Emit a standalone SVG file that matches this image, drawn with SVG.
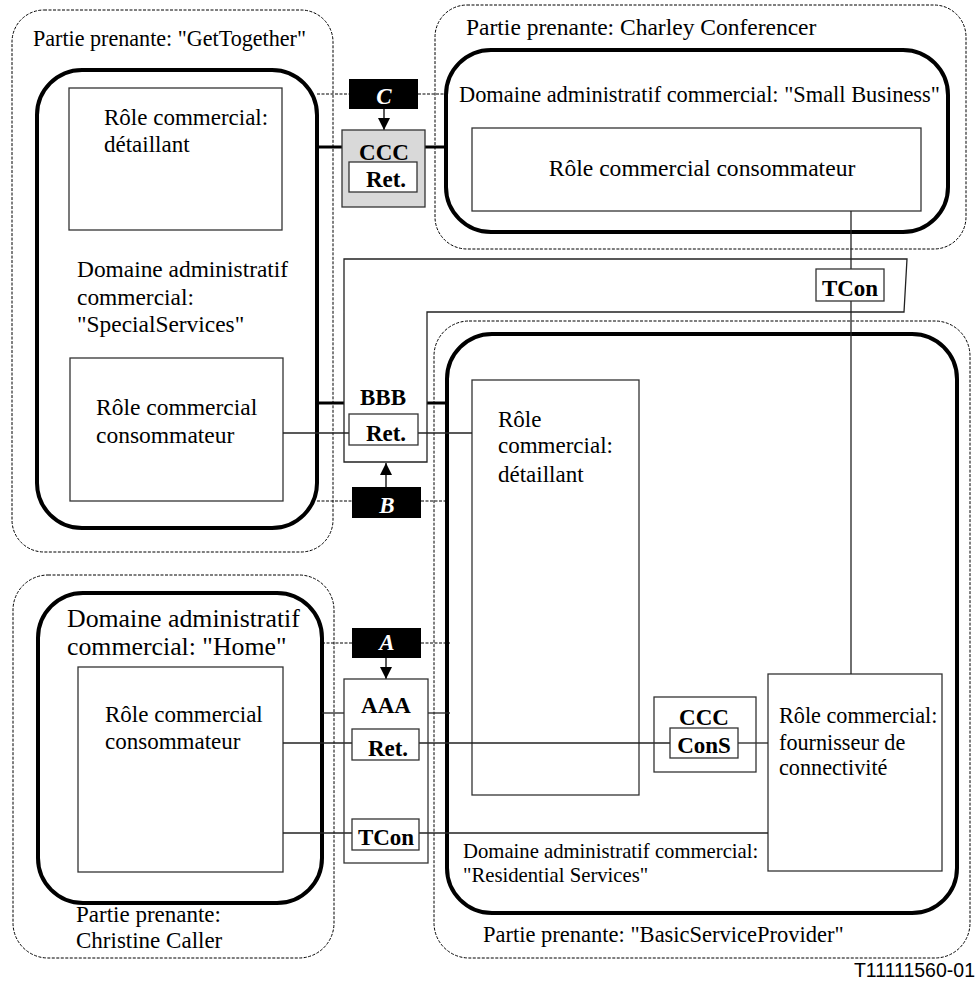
<svg xmlns="http://www.w3.org/2000/svg" width="977" height="982" viewBox="0 0 977 982">
  <style>
    .party{fill:none;stroke:#000;stroke-width:1;stroke-dasharray:3 1.5}
    .domain{fill:none;stroke:#000;stroke-width:4}
    .role{fill:none;stroke:#333;stroke-width:1.3}
    .obj{fill:#fff;stroke:#333;stroke-width:1.3}
    .t{font-family:"Liberation Serif","Times New Roman",serif;font-size:23px;fill:#000}
    .b{font-family:"Liberation Serif","Times New Roman",serif;font-weight:bold;font-size:23px;fill:#000;text-anchor:middle}
    .ref{fill:#000;stroke:none}
    .refl{font-family:"Liberation Serif","Times New Roman",serif;font-weight:bold;font-style:italic;font-size:23px;fill:#fff;text-anchor:middle}
    .thin{stroke:#222;stroke-width:1.3;fill:none}
    .heavy{stroke:#000;stroke-width:3;fill:none}
    .dash{stroke:#000;stroke-width:1;stroke-dasharray:3 1.5;fill:none}
    .arr{stroke:#000;stroke-width:1.3;fill:none}
  </style>
  <defs>
    <marker id="head" viewBox="0 0 12 12" refX="12" refY="6" markerWidth="12" markerHeight="12" markerUnits="userSpaceOnUse" orient="auto">
      <path d="M0,0 L12,6 L0,12 Z" fill="#000"/>
    </marker>
  </defs>

  <rect width="977" height="982" fill="#fff"/>

  <!-- Stakeholder GetTogether -->
  <g id="party-gettogether">
    <rect class="party" x="12" y="10" width="321" height="542" rx="32"/>
    <text class="t" x="33" y="46" style="font-size:22.1px">Partie prenante: "GetTogether"</text>
    <g id="domain-specialservices">
      <rect class="domain" x="37" y="70" width="280" height="458" rx="45"/>
      <text class="t" x="77" y="277" style="font-size:23.4px">Domaine administratif</text>
      <text class="t" x="77" y="305" style="font-size:23.4px">commercial:</text>
      <text class="t" x="77" y="332" style="font-size:23.4px">"SpecialServices"</text>
    </g>
    <g id="role-gt-retailer">
      <rect class="role" x="69" y="88" width="213" height="142"/>
      <text class="t" x="104" y="125">Rôle commercial:</text>
      <text class="t" x="104" y="152">détaillant</text>
    </g>
    <g id="role-gt-consumer">
      <rect class="role" x="70" y="358" width="213" height="143"/>
      <text class="t" x="96" y="415" style="font-size:23.5px">Rôle commercial</text>
      <text class="t" x="96" y="443" style="font-size:23.5px">consommateur</text>
    </g>
  </g>

  <!-- Stakeholder Charley Conferencer -->
  <g id="party-charley">
    <rect class="party" x="435" y="5" width="531" height="244" rx="32"/>
    <text class="t" x="466" y="35" style="font-size:23.5px">Partie prenante: Charley Conferencer</text>
    <g id="domain-smallbusiness">
      <rect class="domain" x="446" y="50" width="502" height="182" rx="45"/>
      <text class="t" x="459" y="102" style="font-size:22.4px">Domaine administratif commercial: "Small Business"</text>
    </g>
    <g id="role-cc-consumer">
      <rect class="role" x="472" y="128" width="449" height="83"/>
      <text class="t" x="702" y="176" text-anchor="middle" style="font-size:23.6px">Rôle commercial consommateur</text>
    </g>
  </g>

  <!-- Stakeholder Christine Caller -->
  <g id="party-christine">
    <rect class="party" x="13" y="575" width="321" height="383" rx="35"/>
    <text class="t" x="76" y="922">Partie prenante:</text>
    <text class="t" x="76" y="948">Christine Caller</text>
    <g id="domain-home">
      <rect class="domain" x="38" y="593" width="284" height="310" rx="45"/>
      <text class="t" x="67" y="627" style="font-size:25.8px">Domaine administratif</text>
      <text class="t" x="67" y="655" style="font-size:25.8px">commercial: "Home"</text>
    </g>
    <g id="role-home-consumer">
      <rect class="role" x="78" y="667" width="205" height="205"/>
      <text class="t" x="105" y="722">Rôle commercial</text>
      <text class="t" x="105" y="749">consommateur</text>
    </g>
  </g>

  <!-- Stakeholder BasicServiceProvider -->
  <g id="party-bsp">
    <rect class="party" x="434" y="321" width="536" height="637" rx="35"/>
    <text class="t" x="483" y="942" style="font-size:22.5px">Partie prenante: "BasicServiceProvider"</text>
    <g id="domain-residential">
      <rect class="domain" x="447" y="334" width="510" height="579" rx="45"/>
      <text class="t" x="463" y="858" style="font-size:20.7px">Domaine administratif commercial:</text>
      <text class="t" x="463" y="882" style="font-size:20.7px">"Residential Services"</text>
    </g>
    <g id="role-bsp-retailer">
      <rect class="role" x="472" y="380" width="167" height="415"/>
      <text class="t" x="498" y="427">Rôle</text>
      <text class="t" x="498" y="453">commercial:</text>
      <text class="t" x="498" y="482">détaillant</text>
    </g>
    <g id="role-bsp-connectivity">
      <rect class="role" x="768" y="674" width="174" height="197"/>
      <text class="t" x="779" y="723" style="font-size:22.2px">Rôle commercial:</text>
      <text class="t" x="779" y="750" style="font-size:22.2px">fournisseur de</text>
      <text class="t" x="779" y="775" style="font-size:22.2px">connectivité</text>
    </g>
  </g>

  <!-- Connectors -->
  <g id="connectors">
    <!-- reference point C -->
    <line class="dash" x1="317" y1="94" x2="349" y2="94"/>
    <line class="dash" x1="418" y1="94" x2="446" y2="94"/>
    <line class="arr" x1="384" y1="109" x2="384" y2="130" marker-end="url(#head)"/>
    <line class="heavy" x1="317" y1="147" x2="342" y2="147"/>
    <line class="heavy" x1="425" y1="147" x2="446" y2="147"/>
    <!-- reference point B -->
    <line class="dash" x1="317" y1="501" x2="352" y2="501"/>
    <line class="dash" x1="421" y1="501" x2="447" y2="501"/>
    <line class="arr" x1="386" y1="487" x2="386" y2="463" marker-end="url(#head)"/>
    <line class="heavy" x1="317" y1="403" x2="344" y2="403"/>
    <line class="heavy" x1="427" y1="403" x2="447" y2="403"/>
    <line class="thin" x1="283" y1="433" x2="349" y2="433"/>
    <line class="thin" x1="418" y1="433" x2="472" y2="433"/>
    <!-- reference point A -->
    <line class="dash" x1="322" y1="643" x2="352" y2="643"/>
    <line class="dash" x1="421" y1="643" x2="450" y2="643"/>
    <line class="arr" x1="386" y1="658" x2="386" y2="679" marker-end="url(#head)"/>
    <line class="thin" x1="322" y1="713" x2="344" y2="713"/>
    <line class="thin" x1="428" y1="713" x2="450" y2="713"/>
    <line class="thin" x1="283" y1="743" x2="352" y2="743"/>
    <line class="thin" x1="419" y1="743" x2="670" y2="743"/>
    <line class="thin" x1="738" y1="743" x2="768" y2="743"/>
    <line class="thin" x1="283" y1="833" x2="352" y2="833"/>
    <line class="thin" x1="419" y1="833" x2="768" y2="833"/>
    <!-- terminal connection path -->
    <line class="thin" x1="851" y1="211" x2="851" y2="269"/>
    <line class="thin" x1="851" y1="301" x2="851" y2="674"/>
  </g>

  <!-- Reference point markers -->
  <g id="ref-c">
    <rect class="ref" x="349" y="79" width="69" height="30"/>
    <text class="refl" x="384" y="104">C</text>
  </g>
  <g id="ref-b">
    <rect class="ref" x="352" y="487" width="69" height="31"/>
    <text class="refl" x="387" y="513">B</text>
  </g>
  <g id="ref-a">
    <rect class="ref" x="352" y="628" width="69" height="30"/>
    <text class="refl" x="387" y="650">A</text>
  </g>

  <!-- Binding objects -->
  <g id="bind-ccc-top">
    <rect x="342" y="130" width="83" height="77" fill="#d9d9d9" stroke="#333" stroke-width="1.3"/>
    <text class="b" x="384" y="160">CCC</text>
    <rect class="obj" x="349" y="162" width="68" height="30"/>
    <text class="b" x="386" y="187">Ret.</text>
  </g>

  <g id="bind-bbb">
    <path class="thin" d="M344,259 H907 L904,312 H427 V462 H344 Z"/>
    <text class="b" x="383" y="405">BBB</text>
    <rect class="obj" x="349" y="414" width="69" height="31"/>
    <text class="b" x="386" y="441">Ret.</text>
    <rect class="obj" x="816" y="269" width="68" height="32"/>
    <text class="b" x="850" y="296">TCon</text>
  </g>

  <g id="bind-aaa">
    <rect class="role" x="344" y="679" width="84" height="184"/>
    <text class="b" x="386" y="713">AAA</text>
    <rect class="obj" x="352" y="729" width="67" height="31"/>
    <text class="b" x="388" y="756">Ret.</text>
    <rect class="obj" x="352" y="819" width="67" height="31"/>
    <text class="b" x="386" y="845">TCon</text>
  </g>

  <g id="bind-ccc-cons">
    <rect class="role" x="654" y="697" width="102" height="75"/>
    <text class="b" x="704" y="725">CCC</text>
    <rect class="obj" x="670" y="728" width="68" height="30"/>
    <text class="b" x="704" y="753">ConS</text>
  </g>

  <text x="975" y="977" font-family="'Liberation Sans',Arial,sans-serif" font-size="19.5" text-anchor="end" fill="#000">T11111560-01</text>
</svg>
